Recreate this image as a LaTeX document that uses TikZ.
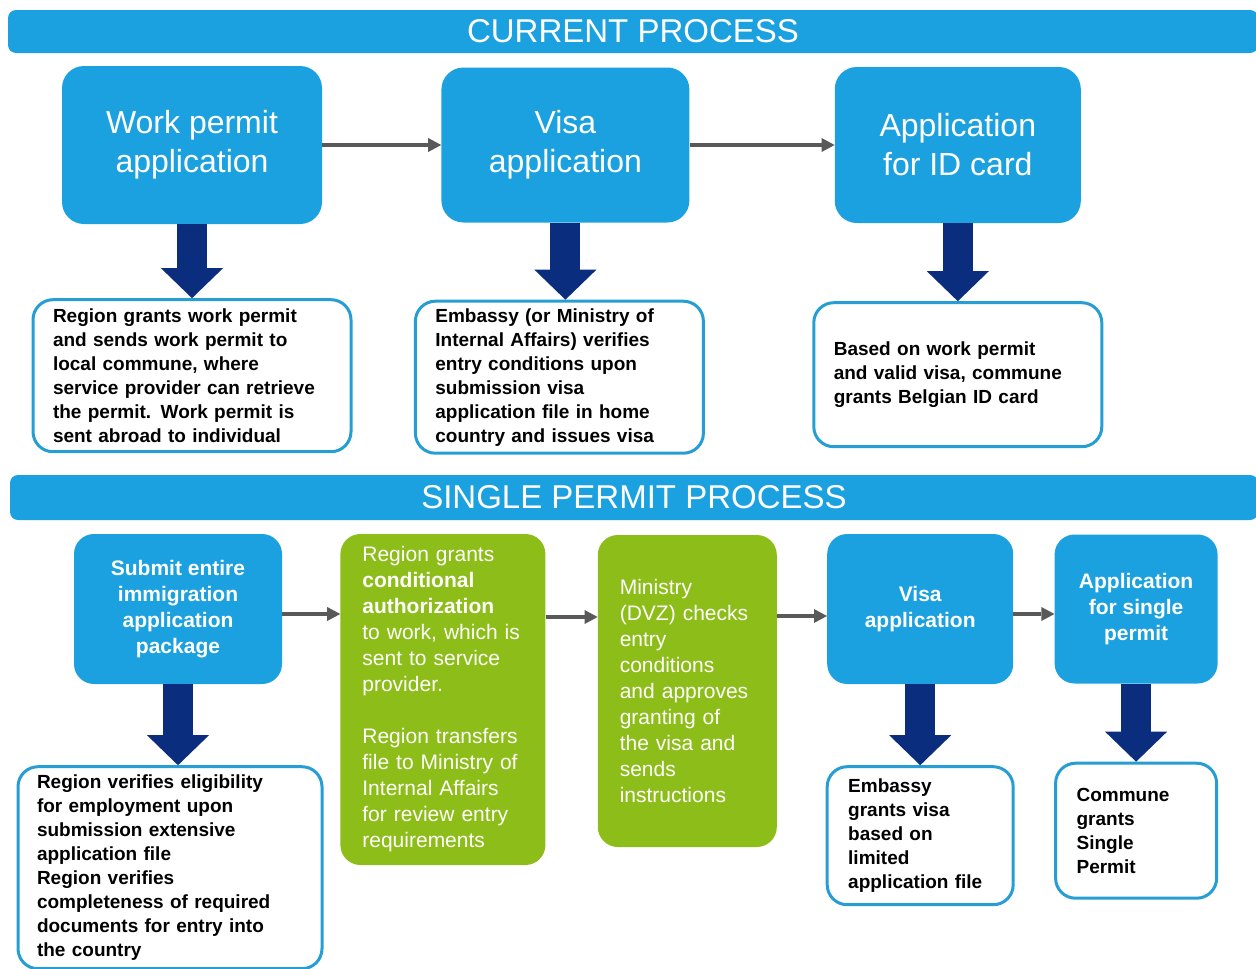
\documentclass[tikz,border=0pt]{standalone}
\usepackage{fontspec}
\setmainfont{Liberation Sans}
\usetikzlibrary{
  positioning,
  calc,
  arrows.meta}
\definecolor{stepcolor}{RGB}{27,161,224}
\definecolor{authcolor}{RGB}{141,189,24}
\definecolor{bordercolor}{RGB}{38,158,212}
\definecolor{downcolor}{RGB}{10,45,125}
\definecolor{flowcolor}{RGB}{89,89,89}
\tikzset{
  %% banner : header bar of a process
  banner/.style={
    rectangle,
    rounded corners=8pt,
    fill=stepcolor,
    text=white,
    font=\fontsize{33}{38}\selectfont,
    align=center
  },
  %% mainstep : a step of the current process
  mainstep/.style={
    rectangle,
    rounded corners=22pt,
    fill=stepcolor,
    text=white,
    font=\fontsize{32}{39}\selectfont,
    inner sep=0pt,
    align=center
  },
  %% substep : a step of the single permit process
  substep/.style={
    rectangle,
    rounded corners=20pt,
    fill=stepcolor,
    text=white,
    font=\bfseries\fontsize{21}{26}\selectfont,
    inner sep=0pt,
    align=center
  },
  %% authstep : a step done by the authorities
  authstep/.style={
    rectangle,
    rounded corners=20pt,
    fill=authcolor,
    text=white,
    font=\fontsize{21}{26}\selectfont,
    inner xsep=22pt,
    inner ysep=0pt,
    align=left
  },
  %% outcome : what comes out of a step
  outcome/.style={
    rectangle,
    rounded corners=20pt,
    draw=bordercolor,
    line width=3pt,
    fill=white,
    font=\bfseries\fontsize{19}{24}\selectfont,
    inner xsep=20pt,
    inner ysep=0pt,
    align=left
  },
  %% flow : thin arrow between steps
  flow/.style={flowcolor, line width=3.5pt,
    -{Triangle[width=14pt, length=13pt, line width=0pt]}},
  %% bigarrow : thick arrow down to the outcome
  bigarrow/.style={downcolor, line width=30pt,
    -{Triangle[width=62pt, length=30pt, line width=0pt]}}
}
\begin{document}
\begin{tikzpicture}
  [x=1pt,
  y=-1pt]

  \useasboundingbox (0,0) rectangle (1256,969);

  %%% Current process
  \node (currentbar) [banner, minimum width=1250pt, minimum height=43pt]
  at (633,31.5) {CURRENT PROCESS};

  \node (work) [mainstep, minimum width=260pt, minimum height=158pt]
  at (192,145) {%
    Work permit\\application};

  \node (visa) [mainstep, right=119pt of work,
  minimum width=248pt, minimum height=155pt]{%
    Visa\\application};

  \node (idcard) [mainstep, right=145pt of visa,
  minimum width=246pt, minimum height=156pt]{%
    Application\\for ID card};

  \node (grantwork) [outcome, below=74pt of work,
  text width=278pt, minimum height=152pt]{%
    Region grants work permit\\
    and sends work permit to\\
    local commune, where\\
    service provider can retrieve\\
    the permit. Work permit is\\
    sent abroad to individual};

  \node (verifyvisa) [outcome, below=77pt of visa, xshift=-6pt,
  text width=248pt, minimum height=152pt]{%
    Embassy (or Ministry of\\
    Internal Affairs) verifies\\
    entry conditions upon\\
    submission visa\\
    application file in home\\
    country and issues visa};

  \node (idgrant) [outcome, below=78pt of idcard,
  text width=248pt, minimum height=144pt]{%
    Based on work permit\\
    and valid visa, commune\\
    grants Belgian ID card};

  %% Connections
  \draw [flow] (work.east) -- (work.east -| visa.west);
  \draw [flow] (visa.east) -- (visa.east -| idcard.west);
  \draw [bigarrow] (work.south) -- (grantwork.north);
  \draw [bigarrow] (visa.south) -- (visa.south |- verifyvisa.north);
  \draw [bigarrow] (idcard.south) -- (idgrant.north);

  %%% Single permit process
  \node (singlebar) [banner, minimum width=1248pt, minimum height=45pt]
  at (634,497.5) {SINGLE PERMIT PROCESS};

  \node (submit) [substep, minimum width=208pt, minimum height=150pt]
  at (178,609) {%
    Submit entire\\immigration\\application\\package};

  \node (condauth) [authstep, anchor=north west,
  text width=161pt, minimum height=331pt]
  at ($(submit.north east)+(58,0)$){%
    Region grants\\
    \textbf{conditional}\\
    \textbf{authorization}\\
    to work, which is\\
    sent to service\\
    provider.\\[26pt]
    Region transfers\\
    file to Ministry of\\
    Internal Affairs\\
    for review entry\\
    requirements};

  \node (dvz) [authstep, anchor=north west,
  text width=135pt, minimum height=312pt]
  at ($(condauth.north east)+(52,1)$){%
    Ministry\\
    (DVZ) checks\\
    entry\\
    conditions\\
    and approves\\
    granting of\\
    the visa and\\
    sends\\
    instructions};

  \node (visatwo) [substep, anchor=north west,
  minimum width=186pt, minimum height=150pt]
  at ($(dvz.north east)+(50,-1)$){%
    Visa\\application};

  \node (singlepermit) [substep, right=41pt of visatwo,
  minimum width=163pt, minimum height=149pt]{%
    Application\\for single\\permit};

  \node (verifyelig) [outcome, below=81pt of submit, xshift=-8pt,
  text width=266pt, inner xsep=19pt, minimum height=202pt]{%
    Region verifies eligibility\\
    for employment upon\\
    submission extensive\\
    application file\\
    Region verifies\\
    completeness of required\\
    documents for entry into\\
    the country};

  \node (embassy) [outcome, below=81pt of visatwo,
  text width=144pt, inner xsep=21pt, minimum height=138pt]{%
    Embassy\\
    grants visa\\
    based on\\
    limited\\
    application file};

  \node (commune) [outcome, below=78pt of singlepermit,
  text width=119pt, inner xsep=21pt, minimum height=135pt]{%
    Commune\\
    grants\\
    Single\\
    Permit};

  %% Connections
  \draw [flow] ([yshift=-5pt]submit.east) --
  ([yshift=-5pt]submit.east -| condauth.west);
  \draw [flow] ([yshift=-8pt]submit.east -| condauth.east) --
  ([yshift=-8pt]submit.east -| dvz.west);
  \draw [flow] ([yshift=-7pt]submit.east -| dvz.east) --
  ([yshift=-7pt]submit.east -| visatwo.west);
  \draw [flow] ([yshift=-5pt]visatwo.east) --
  ([yshift=-5pt]visatwo.east -| singlepermit.west);
  \draw [bigarrow] (submit.south) -- (submit.south |- verifyelig.north);
  \draw [bigarrow] (visatwo.south) -- (embassy.north);
  \draw [bigarrow] (singlepermit.south) -- (commune.north);

\end{tikzpicture}
\end{document}
